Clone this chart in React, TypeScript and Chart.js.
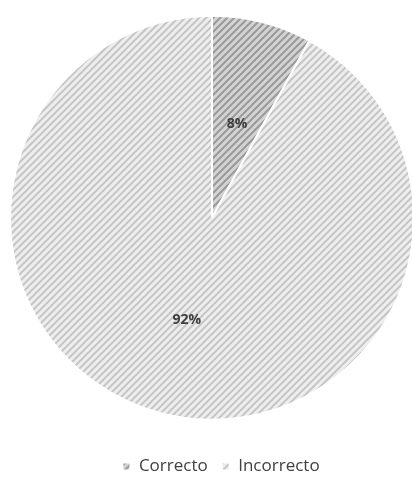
import React, { useEffect, useRef } from "react";
import { Chart, registerables } from "chart.js";

Chart.register(...registerables);

const categories = ["Correcto", "Incorrecto"];
const values = [8, 92];
const labelsText = ["8%", "92%"];

function makePattern(bg: string, line: string): CanvasPattern | string {
  const c = document.createElement("canvas");
  const s = 7;
  c.width = s;
  c.height = s;
  const ctx = c.getContext("2d");
  if (!ctx) return bg;
  ctx.fillStyle = bg;
  ctx.fillRect(0, 0, s, s);
  ctx.strokeStyle = line;
  ctx.lineWidth = 2;
  ctx.beginPath();
  ctx.moveTo(-1, s + 1);
  ctx.lineTo(s + 1, -1);
  ctx.moveTo(-1, 1);
  ctx.lineTo(1, -1);
  ctx.moveTo(s - 1, s + 1);
  ctx.lineTo(s + 1, s - 1);
  ctx.stroke();
  const p = ctx.createPattern(c, "repeat");
  return p || bg;
}

const labelPlugin = {
  id: "sliceLabels",
  afterDatasetsDraw(chart: any) {
    const ctx = chart.ctx;
    const meta = chart.getDatasetMeta(0);
    ctx.save();
    ctx.font = "bold 14px 'Open Sans', sans-serif";
    ctx.fillStyle = "#404040";
    ctx.textAlign = "center";
    ctx.textBaseline = "middle";
    meta.data.forEach((arc: any, i: number) => {
      const pos = arc.tooltipPosition();
      ctx.fillText(labelsText[i], pos.x, pos.y + 4);
    });
    ctx.restore();
  },
};

const legendShift = {
  id: "legendShift",
  afterLayout(chart: any) {
    const lg = chart.legend;
    if (lg) {
      lg.left += 9;
      lg.right += 9;
    }
  },
};

export default function App() {
  const ref = useRef<HTMLCanvasElement>(null);
  useEffect(() => {
    document.body.style.margin = "0";
    const canvas = ref.current;
    if (!canvas) return;
    const colors = [
      makePattern("#d4d4d4", "#9a9a9a"),
      makePattern("#eeeeee", "#c6c6c6"),
    ];
    const chart = new Chart(canvas, {
      type: "pie",
      data: {
        labels: categories,
        datasets: [
          {
            data: values,
            backgroundColor: colors as any,
            borderColor: "#ffffff",
            borderWidth: 2,
          },
        ],
      },
      options: {
        animation: false,
        responsive: false,
        maintainAspectRatio: false,
        layout: { padding: { left: 9, right: 9, top: 13, bottom: 0 } },
        plugins: {
          tooltip: { enabled: false },
          legend: {
            position: "bottom",
            title: { display: true, text: " ", padding: 0, font: { size: 18 } },
            labels: {
              boxWidth: 8,
              boxHeight: 8,
              padding: 14,
              color: "#404040",
              font: { size: 17, family: "'Open Sans', sans-serif" },
            },
          },
        },
      },
      plugins: [labelPlugin, legendShift],
    });
    return () => chart.destroy();
  }, []);
  return (
    <div style={{ width: 412, height: 485, background: "#fff", overflow: "hidden" }}>
      <canvas ref={ref} width={424} height={485} style={{ width: 424, height: 485, display: "block" }} />
    </div>
  );
}
